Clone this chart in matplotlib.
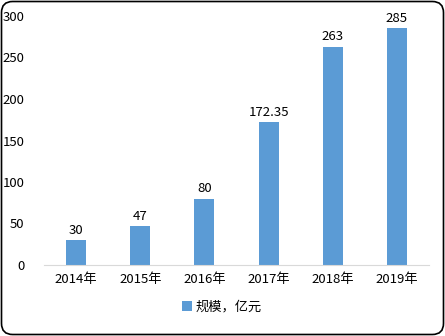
import matplotlib
matplotlib.use("Agg")
import matplotlib.pyplot as plt
from matplotlib.patches import FancyBboxPatch

plt.rcParams['font.family'] = ['Noto Sans CJK SC', 'DejaVu Sans']

years = ["2014年", "2015年", "2016年", "2017年", "2018年", "2019年"]
values = [30, 47, 80, 172.35, 263, 285]
labels = ["30", "47", "80", "172.35", "263", "285"]
series_name = "规模，亿元"
color = "#5B9BD5"

fig = plt.figure(figsize=(4.45, 3.36), dpi=100)
ax = fig.add_axes([44/445, 71/336, 385/445, (265-16)/336])
x = range(len(years))
bars = ax.bar(x, values, width=0.31, color=color, label=series_name)
for xi, v, t in zip(x, values, labels):
    ax.text(xi, v + 4, t, ha='center', va='bottom', fontsize=9.5, color='#000000')
ax.set_xlim(-0.5, len(years) - 0.5)
ax.set_ylim(0, 300)
ax.set_yticks(range(0, 301, 50))
ax.set_xticks(list(x))
ax.set_xticklabels(years)
for s in ['top', 'right', 'left']:
    ax.spines[s].set_visible(False)
ax.spines['bottom'].set_color('#D9D9D9')
ax.tick_params(axis='both', length=0, labelsize=9.5, colors='#000000')
ax.tick_params(axis='y', pad=14)
ax.tick_params(axis='x', pad=6)
leg = fig.legend(handles=[bars], labels=[series_name], loc='center', bbox_to_anchor=(222/445, 1 - 307/336),
                 frameon=False, fontsize=9.5, handlelength=0.7, handleheight=0.7, handletextpad=0.3)
border = FancyBboxPatch((1.5/445, 1.5/336), 442/445, 333/336, boxstyle="round,pad=0,rounding_size=0.025",
                        transform=fig.transFigure, fill=False, edgecolor='black', linewidth=1.2,
                        mutation_aspect=445/336)
fig.patches.append(border)
fig.savefig("out.png", dpi=100)
